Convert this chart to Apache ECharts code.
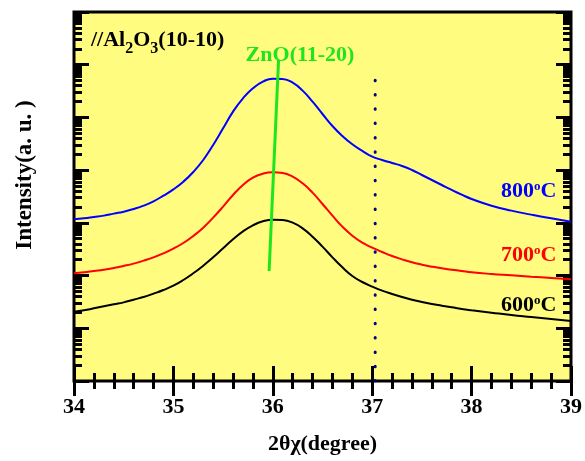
<!DOCTYPE html>
<html>
<head>
<meta charset="utf-8">
<script src="https://cdn.jsdelivr.net/npm/echarts@6/dist/echarts.min.js"></script>
<style>html,body{margin:0;padding:0;background:#fff;}#c{width:585px;height:461px;}</style>
</head>
<body>
<div id="c"></div>
<script>
// 2θχ positions (degree)
const degrees = [34.0, 34.1, 34.2, 34.3, 34.4, 34.5, 34.6, 34.7, 34.8, 34.9,
                 35.0, 35.1, 35.2, 35.3, 35.4, 35.5, 35.6, 35.7, 35.8, 35.9,
                 36.0, 36.1, 36.2, 36.3, 36.4, 36.5, 36.6, 36.7, 36.8, 36.9,
                 37.0, 37.1, 37.2, 37.3, 37.4, 37.5, 37.6, 37.7, 37.8, 37.9,
                 38.0, 38.2, 38.4, 38.6, 38.8, 39.0];
// log10(intensity, a.u.)
const int600 = [1.315, 1.341, 1.379, 1.417, 1.455, 1.492, 1.543, 1.594, 1.657, 1.726,
                1.809, 1.916, 2.043, 2.188, 2.346, 2.517, 2.688, 2.839, 2.953, 3.029,
                3.061, 3.054, 3.004, 2.896, 2.738, 2.549, 2.346, 2.156, 1.992, 1.878,
                1.790, 1.714, 1.651, 1.594, 1.543, 1.499, 1.461, 1.429, 1.398, 1.366,
                1.341, 1.296, 1.252, 1.214, 1.176, 1.138];
const int700 = [2.043, 2.062, 2.087, 2.112, 2.144, 2.182, 2.226, 2.283, 2.346, 2.422,
                2.511, 2.618, 2.751, 2.909, 3.099, 3.307, 3.529, 3.718, 3.858, 3.933,
                3.959, 3.946, 3.877, 3.750, 3.573, 3.358, 3.137, 2.928, 2.757, 2.624,
                2.530, 2.447, 2.371, 2.308, 2.251, 2.207, 2.169, 2.137, 2.112, 2.087,
                2.062, 2.030, 2.005, 1.979, 1.954, 1.929];
const int800 = [3.067, 3.086, 3.111, 3.137, 3.175, 3.212, 3.263, 3.326, 3.409, 3.516,
                3.636, 3.782, 3.965, 4.193, 4.477, 4.794, 5.110, 5.363, 5.552, 5.679,
                5.736, 5.729, 5.660, 5.508, 5.299, 5.065, 4.838, 4.648, 4.490, 4.364,
                4.256, 4.193, 4.136, 4.079, 4.003, 3.908, 3.813, 3.718, 3.624, 3.535,
                3.453, 3.326, 3.232, 3.156, 3.086, 3.023];
// ZnO(11-20) peak guide line (degree, log intensity)
const znoX = [35.963, 36.058];
const znoY = [2.087, 6.09];
// reference dotted line
const refX = [37.03, 37.03];
const refY = [0, 5.71];
const xTicks = [34, 35, 36, 37, 38, 39];

const minorLog = [];
for (let n = 0; n < 7; n++) for (let k = 2; k <= 9; k++) minorLog.push(n + Math.log10(k));

const FONT = 'Liberation Serif';
const zip = (a, b) => a.map((v, i) => [v, b[i]]);

const tickStyle = {width: 3, color: '#000'};
function xAx(pos, labels) {
  return {
    type: 'value', min: 34, max: 39, interval: 1, position: pos,
    axisLine: {show: false},
    axisTick: {show: true, inside: true, length: 15, lineStyle: tickStyle},
    minorTick: {show: true, splitNumber: 5, length: 8, lineStyle: tickStyle},
    splitLine: {show: false}, minorSplitLine: {show: false},
    axisLabel: {show: labels, margin: 15, fontFamily: FONT, fontWeight: 'bold', fontSize: 22, color: '#000',
      formatter: v => xTicks.includes(v) ? String(v) : ''},
    name: labels ? '2θχ(degree)' : '', nameLocation: 'middle', nameGap: 52,
    nameTextStyle: {fontFamily: FONT, fontWeight: 'bold', fontSize: 22, color: '#000'}
  };
}
function yAx(pos, minor) {
  const a = {
    type: 'value', min: 0, max: 7, interval: 1, position: pos,
    axisLine: {show: false},
    axisLabel: {show: false},
    splitLine: {show: false},
    axisTick: {show: true, inside: true, length: minor ? 8 : 15, lineStyle: tickStyle}
  };
  if (minor) a.axisTick.customValues = minorLog;
  return a;
}
function tempLabel(t, y, color) {
  return {type: 'text', x: 501, y: y, z: 10, style: {text: '{m|' + t + '}{u|o}{m|C}', fill: color, align: 'left', verticalAlign: 'middle',
    rich: {m: {fontFamily: FONT, fontWeight: 'bold', fontSize: 22, lineHeight: 24, verticalAlign: 'top', fill: color},
           u: {fontFamily: FONT, fontWeight: 'bold', fontSize: 13, lineHeight: 13, verticalAlign: 'top', fill: color}}}};
}

const chart = echarts.init(document.getElementById('c'));
chart.setOption({
  animation: false,
  backgroundColor: '#fff',
  grid: {left: 74, right: 10, top: 12, bottom: 80, show: true, backgroundColor: '#FFFC80', borderColor: '#000', borderWidth: 3, containLabel: false},
  xAxis: [xAx('bottom', true), xAx('top', false)],
  yAxis: [yAx('left', false), yAx('left', true), yAx('right', false), yAx('right', true)],
  series: [
    {type: 'line', data: zip(degrees, int600), showSymbol: false, smooth: 0.5, lineStyle: {color: '#000', width: 2}, z: 3},
    {type: 'line', data: zip(degrees, int700), showSymbol: false, smooth: 0.5, lineStyle: {color: '#ff0000', width: 2}, z: 3},
    {type: 'line', data: zip(degrees, int800), showSymbol: false, smooth: 0.5, lineStyle: {color: '#0000ff', width: 2}, z: 3},
    {type: 'line', data: zip(znoX, znoY), showSymbol: false, lineStyle: {color: '#1EE61E', width: 3}, z: 4},
    {type: 'line', data: zip(refX, refY), showSymbol: false, lineStyle: {color: '#000080', width: 3, type: [0.5, 13.8], cap: 'round'}, z: 2}
  ],
  graphic: [
    {type: 'text', x: 91, y: 29, z: 10, style: {
      text: '{m|//Al}{s|2}{m|O}{s|3}{m|(10-10)}',
      fill: '#000', align: 'left', verticalAlign: 'top',
      rich: {
        m: {fontFamily: FONT, fontWeight: 'bold', fontSize: 22, lineHeight: 24, verticalAlign: 'top', fill: '#000'},
        s: {fontFamily: FONT, fontWeight: 'bold', fontSize: 16, lineHeight: 16, padding: [12, 0, 0, 0], verticalAlign: 'top', fill: '#000'}
      }}},
    {type: 'text', x: 300, y: 55, z: 10, style: {text: 'ZnO(11-20)', fill: '#1EE61E', font: 'bold 22px "Liberation Serif"', align: 'center', verticalAlign: 'middle'}},
    tempLabel('800', 192, '#0000ff'),
    tempLabel('700', 256, '#ff0000'),
    tempLabel('600', 306, '#000'),
    {type: 'text', x: 25, y: 175, rotation: Math.PI / 2, z: 10, style: {text: 'Intensity(a. u. )', fill: '#000', font: 'bold 23px "Liberation Serif"', align: 'center', verticalAlign: 'middle'}}
  ]
});
</script>
</body>
</html>
